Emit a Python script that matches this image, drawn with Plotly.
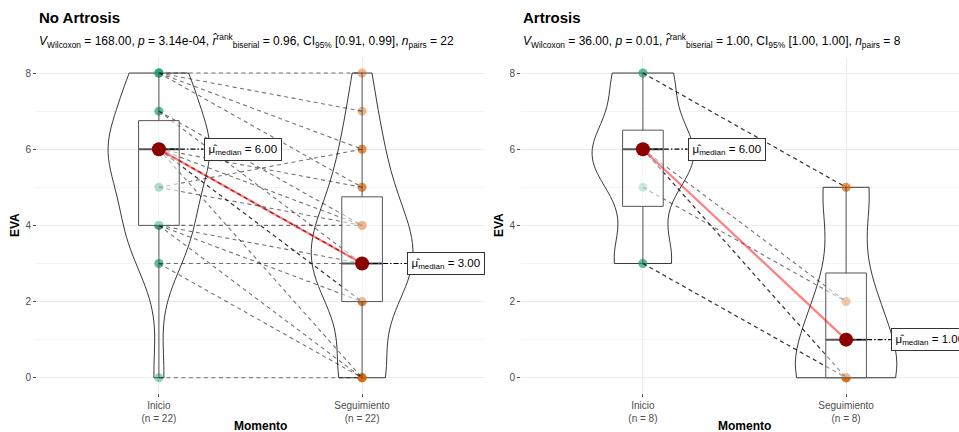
import numpy as np
import plotly.graph_objects as go

# ---------------- data ----------------
conditions = ["Inicio", "Seguimiento"]

# No Artrosis: paired EVA values (one entry per subject)
na_inicio = [8, 8, 8, 7, 6, 5, 5, 4, 4, 4, 4, 3, 3, 0, 6, 6, 6, 6, 6, 6, 7, 8]
na_seguimiento = [8, 7, 6, 3, 5, 6, 4, 4, 3, 2, 0, 3, 0, 0, 2, 2, 3, 3, 4, 0, 4, 5]

# Artrosis: paired EVA values
a_inicio = [8, 8, 6, 6, 6, 5, 3, 3]
a_seguimiento = [5, 5, 2, 0, 0, 2, 0, 0]

panel_titles = ["No Artrosis", "Artrosis"]
v_stat = ["168.00", "36.00"]
p_value = ["3.14e-04", "0.01"]
r_rank = ["0.96", "1.00"]
ci_low = ["0.91", "1.00"]
ci_high = ["0.99", "1.00"]

# ---------------- layout helpers ----------------
W, H = 959, 432
FONT = "Liberation Sans, Arial, sans-serif"
C_PRE = "rgba(27,158,119,0.45)"
C_POST = "rgba(217,95,2,0.45)"
BOX_C = "#555555"


def px(x):
    return x / W


def py(y):
    return 1 - y / H


def nrd0(v):
    v = np.asarray(v, float)
    sd = v.std(ddof=1)
    iqr = np.subtract(*np.percentile(v, [75, 25]))
    lo = min(sd, iqr / 1.34) if iqr > 0 else sd
    return 0.9 * lo * len(v) ** (-0.2)


def box_stats(v):
    v = np.asarray(v, float)
    q1, med, q3 = np.percentile(v, [25, 50, 75])
    iqr = q3 - q1
    lo = v[v >= q1 - 1.5 * iqr].min()
    hi = v[v <= q3 + 1.5 * iqr].max()
    return q1, med, q3, lo, hi


panels = [
    dict(pre=na_inicio, post=na_seguimiento, xa="x", ya="y",
         dom=[px(37), px(484)], rng=[0.4, 2.6]),
    dict(pre=a_inicio, post=a_seguimiento, xa="x2", ya="y2",
         dom=[px(521), 1.0], rng=[0.4, 2.6 - 9 / 203]),
]

fig = go.Figure()
annotations = []
LBL_OFF = 0.22
BW = 0.1  # half box width

for i, p in enumerate(panels):
    xa, ya = p["xa"], p["ya"]
    pre, post = np.array(p["pre"]), np.array(p["post"])
    n = len(pre)
    common = dict(xaxis=xa, yaxis=ya, showlegend=False, hoverinfo="skip")

    # violins (drawn beneath scatter layers by plotly)
    for pos, vals in ((1, pre), (2, post)):
        fig.add_trace(go.Violin(x=[pos] * n, y=vals, width=0.5, scalemode="width",
                                bandwidth=nrd0(vals), spanmode="hard", side="both",
                                fillcolor="rgba(255,255,255,0)",
                                line=dict(color="#222222", width=0.9),
                                points=False, box_visible=False, meanline_visible=False,
                                **common))

    # points
    fig.add_trace(go.Scatter(x=[1] * n, y=pre, mode="markers",
                             marker=dict(size=9, color=C_PRE, line=dict(width=0)), **common))
    fig.add_trace(go.Scatter(x=[2] * n, y=post, mode="markers",
                             marker=dict(size=9, color=C_POST, line=dict(width=0)), **common))
    # paired paths
    for a, b in zip(pre, post):
        fig.add_trace(go.Scatter(x=[1, 2], y=[a, b], mode="lines",
                                 line=dict(color="rgba(0,0,0,0.55)", width=1.1, dash="4px,3.5px"),
                                 **common))
    # boxplots (as scatter shapes so the translucent fill lies over points)
    meds = []
    for pos, vals in ((1, pre), (2, post)):
        q1, med, q3, lo, hi = box_stats(vals)
        meds.append(med)
        fig.add_trace(go.Scatter(x=[pos - BW, pos + BW, pos + BW, pos - BW, pos - BW],
                                 y=[q1, q1, q3, q3, q1], mode="lines", fill="toself",
                                 fillcolor="rgba(255,255,255,0.5)",
                                 line=dict(color=BOX_C, width=1), **common))
        fig.add_trace(go.Scatter(x=[pos, pos, None, pos, pos], y=[q3, hi, None, q1, lo],
                                 mode="lines", line=dict(color=BOX_C, width=1), **common))
        fig.add_trace(go.Scatter(x=[pos - BW, pos + BW], y=[med, med], mode="lines",
                                 line=dict(color=BOX_C, width=2), **common))

    # centrality path and label segments
    fig.add_trace(go.Scatter(x=[1, 2], y=meds, mode="lines",
                             line=dict(color="rgba(255,0,0,0.5)", width=2.2), **common))
    for pos, med in zip((1, 2), meds):
        fig.add_trace(go.Scatter(x=[pos, pos + LBL_OFF], y=[med, med], mode="lines",
                                 line=dict(color="black", width=1.2, dash="5px,2px,1.5px,2px"),
                                 **common))
        annotations.append(dict(
            x=pos + LBL_OFF, y=med, xref=xa, yref=ya, xanchor="left", yanchor="middle",
            text="μ̂<sub>median</sub> = %.2f" % med, showarrow=False,
            font=dict(family=FONT, size=11.5, color="black"),
            bgcolor="white", bordercolor="#333333", borderwidth=1, borderpad=3.5))
    fig.add_trace(go.Scatter(x=[1, 2], y=meds, mode="markers",
                             marker=dict(size=14, color="darkred", line=dict(width=0)),
                             **common))

    # titles
    x0 = p["dom"][0]
    annotations.append(dict(x=x0, y=py(18), xref="paper", yref="paper", xanchor="left",
                            yanchor="middle", showarrow=False, text="<b>%s</b>" % panel_titles[i],
                            font=dict(family=FONT, size=15, color="black")))
    sub = ("<i>V</i><sub>Wilcoxon</sub> = %s, <i>p</i> = %s, "
           "<i>r̂</i><sup>rank</sup><sub>biserial</sub> = %s, "
           "CI<sub>95%%</sub> [%s, %s], <i>n</i><sub>pairs</sub> = %d") % (
        v_stat[i], p_value[i], r_rank[i], ci_low[i], ci_high[i], n)
    annotations.append(dict(x=x0, y=py(41), xref="paper", yref="paper", xanchor="left",
                            yanchor="middle", showarrow=False, text=sub,
                            font=dict(family=FONT, size=12, color="black")))
    # axis titles
    annotations.append(dict(x=x0 - px(22), y=py(225), xref="paper", yref="paper",
                            xanchor="center", yanchor="middle", textangle=-90, showarrow=False,
                            text="<b>EVA</b>", font=dict(family=FONT, size=12, color="black")))
    annotations.append(dict(x=px(260.5 if i == 0 else 744.5), y=py(426), xref="paper",
                            yref="paper", xanchor="center", yanchor="middle", showarrow=False,
                            text="<b>Momento</b>", font=dict(family=FONT, size=12, color="black")))

    ticktext = ["%s<br>(n = %d)" % (c, n) for c in conditions]
    xkey = "xaxis" if i == 0 else "xaxis2"
    ykey = "yaxis" if i == 0 else "yaxis2"
    fig.update_layout({
        xkey: dict(domain=p["dom"], range=p["rng"], anchor=ya, tickmode="array",
                   tickvals=[1, 2], ticktext=ticktext, showgrid=True, gridcolor="#EBEBEB",
                   gridwidth=1, zeroline=False, showline=False, ticks="outside",
                   ticklen=3, tickcolor="#555555",
                   tickfont=dict(family=FONT, size=10, color="#4D4D4D")),
        ykey: dict(domain=[py(393), py(57.8)], range=[-0.4, 8.4], anchor=xa,
                   tickmode="array", tickvals=[0, 2, 4, 6, 8], showgrid=True,
                   gridcolor="#EBEBEB", gridwidth=1.3, zeroline=False, showline=False,
                   ticks="outside", ticklen=3, tickcolor="#555555",
                   tickfont=dict(family=FONT, size=10, color="#4D4D4D"),
                   minor=dict(tickvals=[1, 3, 5, 7], showgrid=True, gridcolor="#F3F3F3",
                              gridwidth=0.8, ticks="")),
    })

fig.update_layout(width=W, height=H, margin=dict(l=0, r=0, t=0, b=0),
                  plot_bgcolor="white", paper_bgcolor="white",
                  violinmode="overlay", boxmode="overlay", showlegend=False,
                  annotations=annotations, font=dict(family=FONT))

fig.write_html("out.html", config={"displayModeBar": False},
               post_script="document.body.style.margin='0px';"
                           "document.body.style.overflow='hidden';")
